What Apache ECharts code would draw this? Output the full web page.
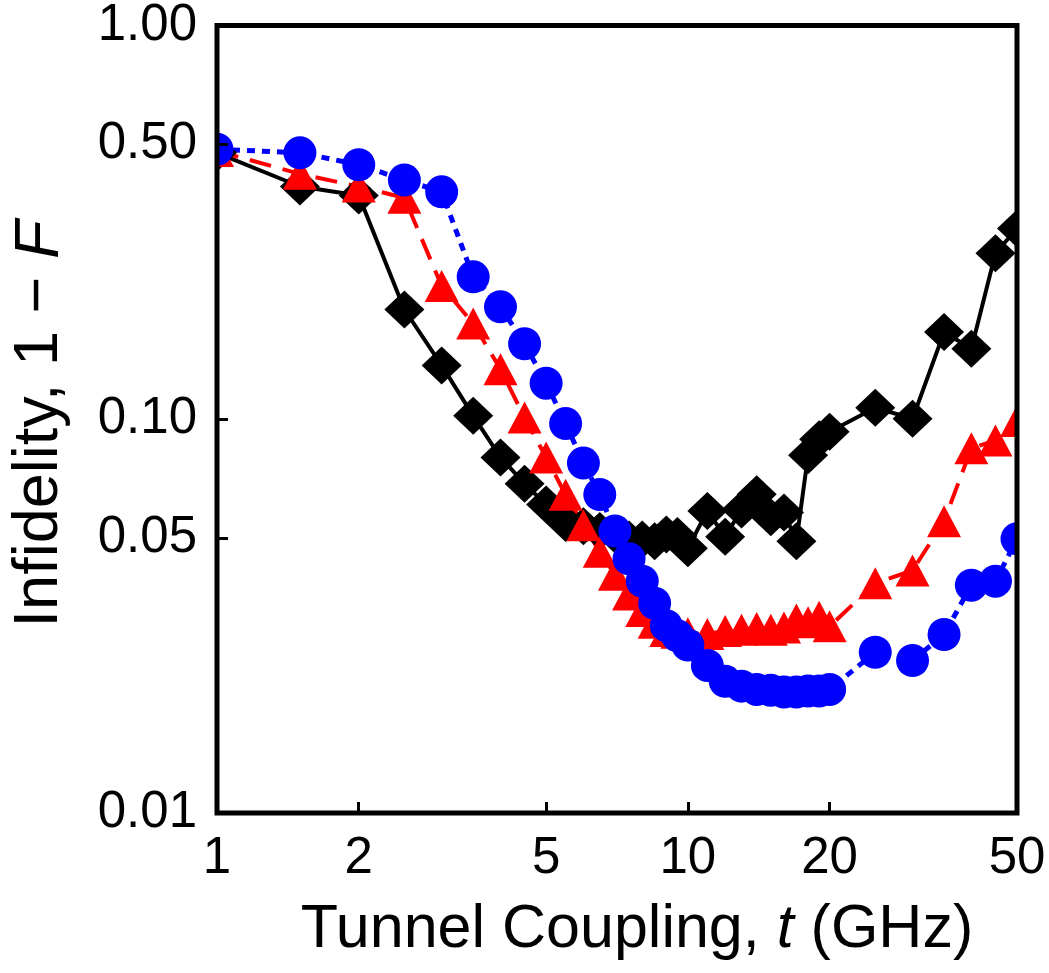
<!DOCTYPE html>
<html><head><meta charset="utf-8">
<script src="https://cdn.jsdelivr.net/npm/echarts@6/dist/echarts.min.js"></script>
<style>html,body{margin:0;padding:0;background:#fff}#c{width:1049px;height:973px}</style>
</head><body><div id="c"></div>
<script>
// Tunnel coupling t (GHz)
const tunnelCoupling = [1, 1.5, 2, 2.5, 3, 3.5, 4, 4.5, 5, 5.5, 6, 6.5, 7, 7.5, 8, 8.5, 9, 9.5, 10,
  11, 12, 13, 14, 15, 16, 17, 18, 19, 20, 25, 30, 35, 40, 45, 50];
// Infidelity 1 - F, black diamonds (solid line)
const blackInfidelity = [0.475, 0.39, 0.37, 0.19, 0.137, 0.102, 0.080, 0.0686, 0.0607, 0.0545,
  0.0535, 0.052, 0.051, 0.0495, 0.0495, 0.049, 0.051, 0.0505, 0.047,
  0.0585, 0.0503, 0.059, 0.0645, 0.0564, 0.058, 0.049, 0.081, 0.089, 0.093,
  0.107, 0.1003, 0.1665, 0.151, 0.264, 0.305];
// red triangles (dashed line)
const redInfidelity = [0.48, 0.42, 0.39, 0.365, 0.218, 0.175, 0.134, 0.101, 0.080, 0.0643,
  0.0538, 0.0461, 0.0403, 0.0359, 0.0326, 0.0304, 0.029, 0.0287, 0.0286,
  0.0285, 0.029, 0.0292, 0.0295, 0.0292, 0.0296, 0.031, 0.0305, 0.0315, 0.0298,
  0.0383, 0.0413, 0.0551, 0.0844, 0.0883, 0.099];
// blue circles (dotted line)
const blueInfidelity = [0.485, 0.475, 0.443, 0.405, 0.378, 0.23, 0.193, 0.1555, 0.1235, 0.0975,
  0.0774, 0.0644, 0.052, 0.0442, 0.0388, 0.0341, 0.0299, 0.0282, 0.0267,
  0.0237, 0.0216, 0.021, 0.0206, 0.0205, 0.0203, 0.0203, 0.0204, 0.0204, 0.0206,
  0.0256, 0.0244, 0.0284, 0.0379, 0.0388, 0.0497];

const xTickLabels = [1, 2, 5, 10, 20, 50];
const xTickMarks = [2, 5, 10, 20];
const yTickLabels = [0.01, 0.05, 0.1, 0.5, 1];
const yTickMarks = [0.05, 0.1, 0.5];

const FONT = "'Liberation Sans', Arial, sans-serif";
const pairs = ys => tunnelCoupling.map((x, i) => [x, ys[i]]);

const chart = echarts.init(document.getElementById('c'), null, {renderer: 'canvas'});
const W = 1049, H = 973, GL = 217, GR = 32, GT = 14, GB = 160;
chart.setOption({
  animation: false,
  backgroundColor: '#fff',
  grid: {left: GL, right: GR, top: GT, bottom: GB, show: true, borderColor: '#000', borderWidth: 5,
    backgroundColor: 'transparent', z: 10},
  xAxis: {
    type: 'log', logBase: 10, min: 1, max: 50, z: 10,
    axisLine: {show: false},
    splitLine: {show: false},
    minorTick: {show: false},
    axisTick: {show: true, inside: true, length: 11, lineStyle: {color: '#000', width: 3}, customValues: xTickMarks},
    axisLabel: {customValues: xTickLabels, fontSize: 51, color: '#000', fontFamily: FONT, margin: 20,
      formatter: v => String(Math.round(v))}
  },
  yAxis: {
    type: 'log', logBase: 10, min: 0.01, max: 1, z: 10,
    axisLine: {show: false},
    splitLine: {show: false},
    minorTick: {show: false},
    axisTick: {show: true, inside: true, length: 11, lineStyle: {color: '#000', width: 3}, customValues: yTickMarks},
    axisLabel: {customValues: yTickLabels, fontSize: 51, color: '#000', fontFamily: FONT, margin: 20,
      formatter: v => Number(v).toFixed(2)}
  },
  series: [
    {type: 'line', data: pairs(blackInfidelity), symbol: 'diamond', symbolSize: [40, 38],
      itemStyle: {color: '#000'}, lineStyle: {color: '#000', width: 4}, clip: true, z: 2},
    {type: 'line', data: pairs(redInfidelity), symbol: 'triangle', symbolSize: [34, 32],
      itemStyle: {color: '#ff0000'}, lineStyle: {color: '#ff0000', width: 4, type: [22, 12]}, clip: true, z: 2},
    {type: 'line', data: pairs(blueInfidelity), symbol: 'circle', symbolSize: 33,
      itemStyle: {color: '#0000ff'}, lineStyle: {color: '#0000ff', width: 5, type: [8, 7]}, clip: true, z: 2}
  ],
  graphic: [
    {type: 'rect', z: 5, shape: {x: 0, y: 0, width: GL, height: H}, style: {fill: '#fff'}, silent: true},
    {type: 'rect', z: 5, shape: {x: 0, y: 0, width: W, height: GT}, style: {fill: '#fff'}, silent: true},
    {type: 'rect', z: 5, shape: {x: W - GR, y: 0, width: GR, height: H}, style: {fill: '#fff'}, silent: true},
    {type: 'rect', z: 5, shape: {x: 0, y: H - GB, width: W, height: GB}, style: {fill: '#fff'}, silent: true},
    {type: 'text', z: 20, x: 637, y: 930,
      style: {text: 'Tunnel Coupling, {i|t} (GHz)', font: '61px ' + FONT, fill: '#000', align: 'center', verticalAlign: 'middle',
        rich: {i: {fontStyle: 'italic', fontSize: 61, fontFamily: FONT}}}},
    {type: 'text', z: 20, x: 40, y: 424, rotation: Math.PI / 2,
      style: {text: 'Infidelity, 1 \u2212 {i|F}', font: '63px ' + FONT, fill: '#000', align: 'center', verticalAlign: 'middle',
        rich: {i: {fontStyle: 'italic', fontSize: 63, fontFamily: FONT}}}}
  ]
});
</script></body></html>
